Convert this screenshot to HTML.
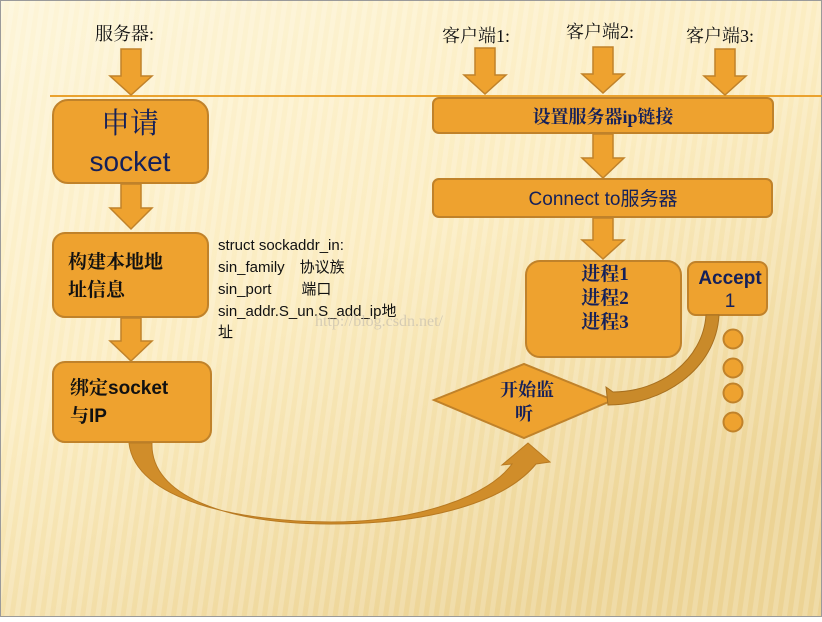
<!DOCTYPE html>
<html><head><meta charset="utf-8"><style>
html,body{margin:0;padding:0}
body{width:822px;height:617px;overflow:hidden;font-family:"Liberation Sans","Noto Sans CJK SC",sans-serif}
</style></head><body>
<svg width="822" height="617" viewBox="0 0 822 617" xmlns="http://www.w3.org/2000/svg">
<defs>
<linearGradient id="bg" x1="0" y1="0" x2="0.6" y2="1">
<stop offset="0" stop-color="#fdf5d8"/><stop offset="0.5" stop-color="#fbecc0"/><stop offset="1" stop-color="#ecd394"/>
</linearGradient>
<pattern id="st" width="10" height="10" patternUnits="userSpaceOnUse" patternTransform="rotate(8)">
<rect width="5" height="10" fill="#ffffff" opacity="0.18"/></pattern>
</defs>
<rect x="0" y="0" width="822" height="617" fill="url(#bg)"/>
<rect x="0" y="0" width="822" height="617" fill="url(#st)"/>
<rect x="0.5" y="0.5" width="821" height="616" fill="none" stroke="#9a9a9a"/>
<line x1="50" y1="96" x2="822" y2="96" stroke="#eaa22e" stroke-width="2"/>
<g font-family="'Liberation Serif','Noto Serif CJK SC',serif" font-size="18" fill="#111">
<text x="95" y="40">服务器:</text>
<text x="442" y="42">客户端1:</text>
<text x="566" y="38">客户端2:</text>
<text x="686" y="42">客户端3:</text>
</g>
<g fill="#eea22f" stroke="#c0822a" stroke-width="1.5">
<path d="M121 49h20v27h11l-21 19-21-19h11z"/>
<path d="M475 48h20v27h11l-21 19-21-19h11z"/>
<path d="M593 47h20v27h11l-21 19-21-19h11z"/>
<path d="M715 49h20v27h11l-21 19-21-19h11z"/>
<path d="M121 184h20v24h11l-21 21-21-21h11z"/>
<path d="M121 318h20v23h11l-21 20-21-20h11z"/>
<path d="M593 134h20v24h11l-21 20-21-20h11z"/>
<path d="M593 218h20v22h11l-21 19-21-19h11z"/>
</g>
<g fill="#eea22f" stroke="#c0822a" stroke-width="2">
<rect x="53" y="100" width="155" height="83" rx="15"/>
<rect x="53" y="233" width="155" height="84" rx="12"/>
<rect x="53" y="362" width="158" height="80" rx="12"/>
<rect x="433" y="98" width="340" height="35" rx="6"/>
<rect x="433" y="179" width="339" height="38" rx="6"/>
<rect x="526" y="261" width="155" height="96" rx="14"/>
<rect x="688" y="262" width="79" height="53" rx="8"/>
<path d="M434 400L524 364L613 400L524 438Z"/>
<circle cx="733" cy="339" r="9.5"/>
<circle cx="733" cy="368" r="9.5"/>
<circle cx="733" cy="393" r="9.5"/>
<circle cx="733" cy="422" r="9.5"/>
</g>
<path d="M129 443 C135 500 240 522 330 522 C420 522 490 495 512 464 L502 465 L528 443 L550 462 L536 464 C505 502 430 524 330 524 C225 524 150 495 152 443 Z" fill="#d08d2a" stroke="#b87a22" stroke-width="1"/>
<path d="M706 315 C703 360 660 392 613 392 L606 387 L608 405 C662 405 716 370 719 315 Z" fill="#c98a2a" stroke="#a8701f" stroke-width="1"/>
<g font-family="'Liberation Serif','Noto Serif CJK SC',serif" fill="#14205a" font-weight="bold">
<text x="130" y="133" text-anchor="middle" font-size="29" font-weight="normal">申请</text>
<text x="130" y="171" text-anchor="middle" font-size="28" font-family="'Liberation Sans',sans-serif" font-weight="normal">socket</text>
<text x="68" y="268" font-size="19" fill="#111">构建本地地</text>
<text x="68" y="296" font-size="19" fill="#111">址信息</text>
<text x="70" y="394" font-size="19" fill="#111">绑定<tspan font-family="'Liberation Sans',sans-serif">socket</tspan></text>
<text x="70" y="422" font-size="19" fill="#111">与<tspan font-family="'Liberation Sans',sans-serif">IP</tspan></text>
<text x="603" y="123" text-anchor="middle" font-size="18">设置服务器ip链接</text>
<text x="603" y="205" text-anchor="middle" font-size="19" font-family="'Liberation Sans','Noto Sans CJK SC',sans-serif" font-weight="normal">Connect to服务器</text>
<text x="605" y="280" text-anchor="middle" font-size="19">进程1</text>
<text x="605" y="304" text-anchor="middle" font-size="19">进程2</text>
<text x="605" y="328" text-anchor="middle" font-size="19">进程3</text>
<text x="730" y="284" text-anchor="middle" font-size="19" font-family="'Liberation Sans',sans-serif" font-weight="bold">Accept</text>
<text x="730" y="307" text-anchor="middle" font-size="19" font-family="'Liberation Sans',sans-serif" font-weight="normal">1</text>
<text x="527" y="396" text-anchor="middle" font-size="18">开始监</text>
<text x="524" y="420" text-anchor="middle" font-size="18">听</text>
</g>
<g font-size="15" fill="#111" font-family="'Liberation Sans','Noto Sans CJK SC',sans-serif">
<text x="218" y="250">struct sockaddr_in:</text>
<text x="218" y="272">sin_family　协议族</text>
<text x="218" y="294">sin_port　　端口</text>
<text x="218" y="316">sin_addr.S_un.S_add_ip地</text>
<text x="218" y="337">址</text>
</g>
<text x="315" y="326" font-size="16" fill="#c8c0b0" opacity="0.7" font-family="'Liberation Serif',serif">http://blog.csdn.net/</text>
</svg>
</body></html>
